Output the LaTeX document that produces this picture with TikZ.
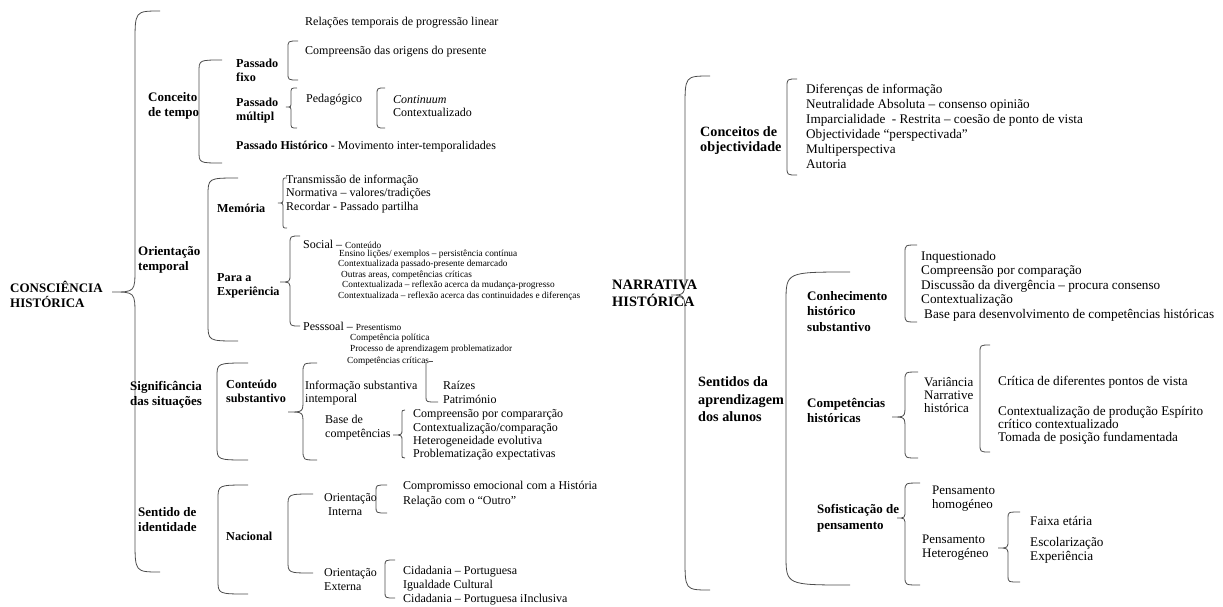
\documentclass[tikz,border=0pt]{standalone}
\usepackage{fontspec}
\setmainfont{Liberation Serif}
\newcommand\txN{\fontsize{12}{13.5}\selectfont}
\newcommand\txS{\fontsize{9.3}{10.5}\selectfont}
\newcommand\txB{\bfseries\fontsize{12.2}{14}\selectfont}
\newcommand\txT{\bfseries\fontsize{13}{15}\selectfont}
\newcommand\txR{\fontsize{13.2}{15}\selectfont}
\newcommand\txRB{\bfseries\fontsize{13}{15.5}\selectfont}
\newcommand\txRT{\bfseries\fontsize{14.2}{17.5}\selectfont}
% rounded bracket: x line, x end, y1, y2, r
\newcommand\sqbk[5]{\draw[brl] (#2,#3) .. controls (#1,#3) .. (#1,{#3+#5}) -- (#1,{#4-#5}) .. controls (#1,#4) .. (#2,#4);}
% curly brace: x line, x end, x tip, y1, ymid, y2, r end, r tip
\newcommand\cybk[8]{\draw[brl] (#2,#4) .. controls (#1,#4) .. (#1,{#4+#7}) -- (#1,{#5-#8}) .. controls (#1,#5) .. (#3,#5) .. controls (#1,#5) .. (#1,{#5+#8}) -- (#1,{#6-#7}) .. controls (#1,#6) .. (#2,#6);}
\begin{document}
\begin{tikzpicture}[x=1pt,y=-1pt,
  brl/.style={draw=black!70,line width=0.8pt},
  t/.style={inner sep=0pt,anchor=west,align=left,font=\txN},
  ts/.style={t,font=\txS},
  tb/.style={t,font=\txB},
  tt/.style={t,font=\txT},
  tr/.style={t,font=\txR},
  trb/.style={t,font=\txRB},
  trt/.style={t,font=\txRT}]
\useasboundingbox (0,0) rectangle (1223,606);
% ---------------- LEFT ----------------
\node[tt] (ch) at (10,294) {CONSCIÊNCIA\\HISTÓRICA};
\cybk{135}{160}{112}{11}{292}{572}{32}{24}
% Conceito de tempo
\node[tt] (ct) at (148,105.5) {Conceito\\de tempo};
\sqbk{199}{222}{60}{163}{12}
\node[t] (rel) at (305,23) {Relações temporais de progressão linear};
\node[tb] (pf) at (236,70) {Passado\\fixo};
\sqbk{288}{298}{41}{80}{7}
\node[t] (cop) at (305,52) {Compreensão das origens do presente};
\node[tb] (pm) at (236,111) {Passado\\múltipl};
\cybk{291}{297}{286}{88}{107}{128}{6}{5}
\node[t] (ped) at (306,100) {Pedagógico};
\sqbk{377}{385}{88}{128}{7}
\node[t,font={\fontsize{12}{13}\selectfont}] (con) at (393,106.5) {\textit{Continuum}\\Contextualizado};
\node[t] (ph) at (236,147) {\textbf{Passado Histórico} - Movimento inter-temporalidades};
% Orientacao temporal
\node[tt] (ot) at (138,259.5) {Orientação\\temporal};
\sqbk{208}{238}{178}{341}{18}
\node[tb] (mem) at (217,208) {Memória};
\cybk{283}{287}{278}{178}{203}{228}{5}{5}
\node[t] (meml) at (286,194) {Transmissão de informação\\Normativa – valores/tradições\\Recordar - Passado partilha};
\node[tb] (pae) at (217,285.5) {Para a\\Experiência};
\cybk{290}{300}{280}{236}{282}{326}{8}{8}
\node[t] (soc) at (303,244) {Social – {\txS Conteúdo}};
\node[ts] (ens) at (339,254) {Ensino lições/ exemplos – persistência contínua};
\node[ts] (cx1) at (338,264.5) {Contextualizada passado-presente demarcado};
\node[ts] (out) at (341,275) {Outras areas, competências críticas};
\node[ts] (cx2) at (342,285.5) {Contextualizada – reflexão acerca da mudança-progresso};
\node[ts] (cx3) at (338,296.5) {Contextualizada – reflexão acerca das continuidades e diferenças};
\node[t] (pes) at (303,326) {Pesssoal – {\txS Presentismo}};
\node[ts] (cpol) at (350,338) {Competência política};
\node[ts] (proc) at (350,349.5) {Processo de aprendizagem problematizador};
\node[ts] (crit) at (347,361) {Competências críticas};
% Significancia
\node[tt,anchor=center,align=center] (sig) at (166,395) {Significância\\das situações};
\sqbk{217}{248}{363}{460}{14}
\node[tb] (csub) at (226,391.5) {Conteúdo\\substantivo};
\cybk{303}{317}{288}{363}{412}{460}{10}{12}
\node[t] (inf) at (305,393) {Informação substantiva\\intemporal};
\draw[brl] (crit.east) -- ++(4,0);
\draw[brl] (426,363) -- (426,397) .. controls (426,402) .. (438,402);
\node[t,font={\fontsize{12}{14}\selectfont}] (rai) at (443,392) {Raízes\\Património};
\node[t,font={\fontsize{12}{14}\selectfont}] (base) at (325,428) {Base de\\competências};
\cybk{402}{405}{393}{410}{435}{458}{5}{6}
\node[t,font={\fontsize{12}{13.3}\selectfont}] (bl) at (413,435) {Compreensão por compararção\\Contextualização/comparação\\Heterogeneidade evolutiva\\Problematização expectativas};
% Sentido de identidade
\node[tt] (sid) at (138,520) {Sentido de\\identidade};
\sqbk{218}{248}{485}{594}{14}
\node[tb] (nac) at (226,536) {Nacional};
\sqbk{288}{313}{494}{573}{12}
\node[t,font={\fontsize{12}{14.5}\selectfont}] (oi) at (324,504.5) {Orientação\\\hspace*{4pt}Interna};
\sqbk{376}{387}{485}{513}{6}
\node[t,font={\fontsize{12}{15}\selectfont}] (cem) at (403,494.5) {Compromisso emocional com a História\\Relação com o “Outro”};
\node[t,font={\fontsize{12}{14}\selectfont}] (oe) at (324,580) {Orientação\\Externa};
\sqbk{385}{395}{560}{598}{6}
\node[t,font={\fontsize{12}{14}\selectfont}] (cid) at (403,586) {Cidadania – Portuguesa\\Igualdade Cultural\\Cidadania – Portuguesa iInclusiva};
% ---------------- RIGHT ----------------
\node[t,font={\bfseries\fontsize{14.4}{17}\selectfont}] (nh) at (612,293.5) {NARRATIVA\\HISTÓRICA};
\cybk{685}{710}{671}{76}{295}{590}{32}{22}
\node[trt,font={\bfseries\fontsize{14.2}{15.5}\selectfont}] (cob) at (700,140.5) {Conceitos de\\objectividade};
\sqbk{787}{797}{79}{175}{8}
\node[tr] (obl) at (806,126.5) {Diferenças de informação\\Neutralidade Absoluta – consenso opinião\\Imparcialidade\ \ - Restrita – coesão de ponto de vista\\Objectividade “perspectivada”\\Multiperspectiva\\Autoria};
\node[trt] (sen) at (698,399.5) {Sentidos da\\aprendizagem\\dos alunos};
\sqbk{786}{850}{272}{585}{30}
\node[trb] (chs) at (807,311.5) {Conhecimento\\histórico\\substantivo};
\sqbk{905}{917}{245}{322}{8}
\node[tr,font={\fontsize{13.2}{14.5}\selectfont}] (chl) at (921,286) {Inquestionado\\Compreensão por comparação\\Discussão da divergência – procura consenso\\Contextualização\\\hspace*{3pt}Base para desenvolvimento de competências históricas};
\node[trb] (cph) at (807,410.5) {Competências\\históricas};
\cybk{905}{918}{892}{372}{417}{458}{8}{12}
\node[tr,font={\fontsize{13}{13}\selectfont}] (var) at (924,395) {Variância\\Narrative\\histórica};
\sqbk{980}{990}{345}{452}{8}
\node[tr] (crt) at (998,382) {Crítica de diferentes pontos de vista};
\node[tr,font={\fontsize{13.2}{13}\selectfont}] (ctp) at (998,425) {Contextualização de produção Espírito\\crítico contextualizado\\Tomada de posição fundamentada};
\node[trb] (sof) at (817,518.5) {Sofisticação de\\pensamento};
\cybk{905}{920}{897}{483}{518}{585}{8}{8}
\node[tr,font={\fontsize{13}{14}\selectfont}] (phom) at (932,499) {Pensamento\\homogéneo};
\node[tr,font={\fontsize{13}{14}\selectfont}] (phet) at (922,548) {Pensamento\\Heterogéneo};
\cybk{1008}{1020}{998}{512}{548}{582}{6}{8}
\node[tr] (fe) at (1030,521) {Faixa etária};
\node[tr] (esc) at (1030,543) {Escolarização};
\node[tr] (exp) at (1030,557) {Experiência};
\end{tikzpicture}
\end{document}
